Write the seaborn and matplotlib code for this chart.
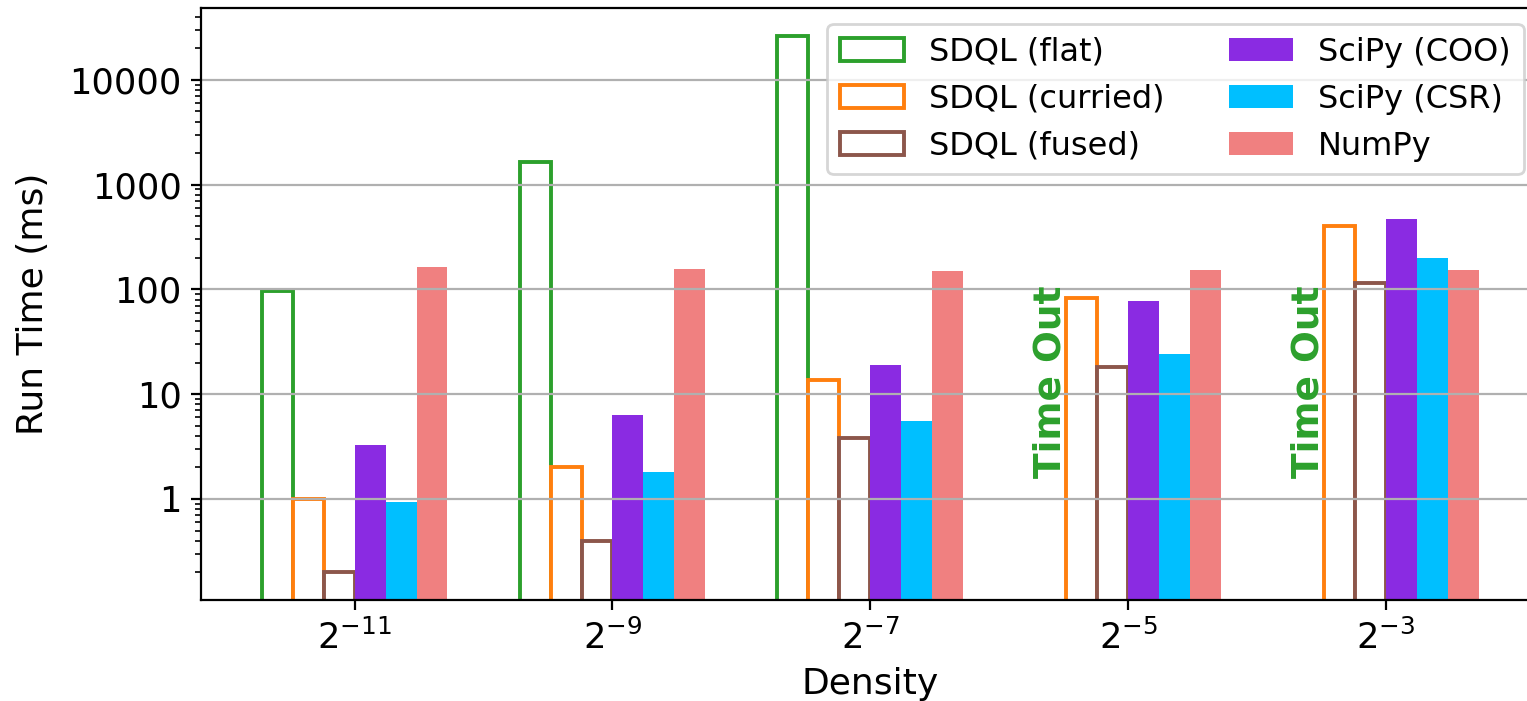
import numpy as np
import pandas as pd
import matplotlib
matplotlib.use("Agg")
import matplotlib.pyplot as plt
from matplotlib.patches import Patch
from matplotlib.ticker import FuncFormatter, LogLocator, NullFormatter
import seaborn as sns

# ---- data ----
densities = ["$2^{-11}$", "$2^{-9}$", "$2^{-7}$", "$2^{-5}$", "$2^{-3}$"]
series = ["SDQL (flat)", "SDQL (curried)", "SDQL (fused)",
          "SciPy (COO)", "SciPy (CSR)", "NumPy"]
sdql_flat = [97, 1650, 26000, np.nan, np.nan]
sdql_curried = [1.0, 2.0, 13.6, 82, 400]
sdql_fused = [0.2, 0.4, 3.8, 18, 115]
scipy_coo = [3.3, 6.3, 19, 78, 470]
scipy_csr = [0.93, 1.8, 5.6, 24, 200]
numpy_vals = [165, 158, 150, 155, 155]
timeout_label = "Time Out"

colors = ["#2ca02c", "#ff7f0e", "#8c564b", "#8a2be2", "#00bfff", "#f08080"]
hollow = [True, True, True, False, False, False]

values = [sdql_flat, sdql_curried, sdql_fused, scipy_coo, scipy_csr, numpy_vals]
rows = []
for s, vals in zip(series, values):
    for d, v in zip(densities, vals):
        if not np.isnan(v):
            rows.append({"density": d, "series": s, "time": v})
df = pd.DataFrame(rows)

DPI = 200
fig = plt.figure(figsize=(1527 / DPI, 701 / DPI), dpi=DPI)
# axes extends slightly beyond the right edge of the image (as in the reference)
ax = fig.add_axes([201 / 1527, 1 - 600 / 701, 1338.6 / 1527, 592 / 701])
ax.set_yscale("log")

sns.barplot(data=df, x="density", y="time", hue="series", order=densities,
            hue_order=series, palette=colors, width=0.72, saturation=1,
            errorbar=None, legend=False, linewidth=0, ax=ax)

LW = 1.4
for cont, col, hol in zip(ax.containers, colors, hollow):
    for p in cont.patches:
        if hol:
            p.set_facecolor("white")
            p.set_edgecolor(col)
            p.set_linewidth(LW)
        else:
            p.set_facecolor(col)
            p.set_linewidth(0)

# Time Out labels for missing flat bars
nh = len(series)
bw = 0.72 / nh
for i, v in enumerate(sdql_flat):
    if np.isnan(v):
        xpos = i - 0.36 + bw / 2
        ax.text(xpos, 13.3, timeout_label, rotation=90, ha="center", va="center",
                color="#2ca02c", fontsize=13.5, fontweight="bold")

ax.set_xlim(-0.596, 4.596)
ax.set_ylim(0.1086, 48600)
ax.yaxis.set_major_locator(LogLocator(base=10))
ax.yaxis.set_minor_locator(LogLocator(base=10, subs=np.arange(2, 10)))
ax.yaxis.set_minor_formatter(NullFormatter())
ax.yaxis.set_major_formatter(FuncFormatter(lambda v, p: f"{v:g}" if v >= 1 else ""))
ax.yaxis.grid(True, which="major", color="#b0b0b0", linewidth=0.8)
ax.xaxis.grid(False)
ax.set_axisbelow("line")

ax.tick_params(axis="both", which="major", labelsize=12.7)
ax.set_xlabel("Density", fontsize=13)
ax.set_ylabel("Run Time (ms)", fontsize=13, labelpad=7)

handles = []
for s, col, hol in zip(series, colors, hollow):
    if hol:
        handles.append(Patch(facecolor="white", edgecolor=col, linewidth=LW, label=s))
    else:
        handles.append(Patch(facecolor=col, edgecolor="none", label=s))
ax.legend(handles=handles, ncol=2, loc="upper right", fontsize=11.5)

fig.savefig("out.png", dpi=DPI)
